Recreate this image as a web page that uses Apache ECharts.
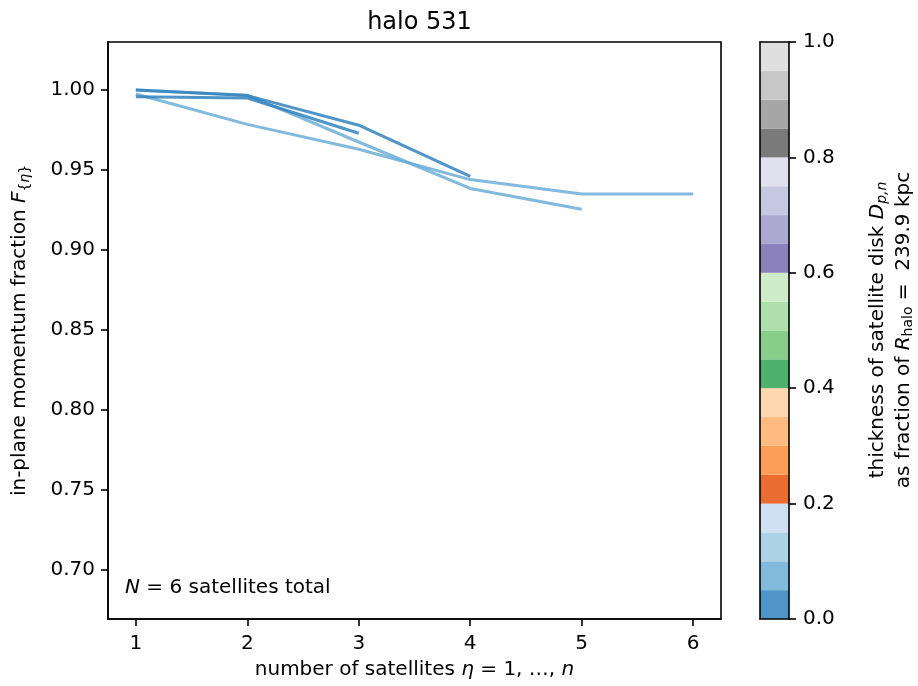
<!DOCTYPE html>
<html><head><meta charset="utf-8">
<script src="https://cdn.jsdelivr.net/npm/echarts@6/dist/echarts.min.js"></script>
<style>html,body{margin:0;padding:0;background:#fff}#c{width:918px;height:686px}</style>
</head><body><div id="c"></div>
<script>
// ---- data ----
const satelliteCounts = [1, 2, 3, 4, 5, 6];
const fractionA = [1.000, 0.9965, 0.978, 0.946];
const fractionB = [0.9958, 0.995, 0.973];
const fractionC = [1.000, 0.9968, 0.9675, 0.9385, 0.9255];
const fractionD = [0.9975, 0.9785, 0.963, 0.944, 0.935, 0.935];
// colour bin (thickness bin index on the colorbar) for each curve
const binA = 0, binB = 0, binC = 1, binD = 1;
const xTicks = [1, 2, 3, 4, 5, 6];
const yTicks = [0.70, 0.75, 0.80, 0.85, 0.90, 0.95, 1.00];
const cbTicks = [0, 0.2, 0.4, 0.6, 0.8, 1.0];
const cbColors = ['#3182bd','#6baed6','#9ecae1','#c6dbef','#e6550d','#fd8d3c','#fdae6b','#fdd0a2',
  '#31a354','#74c476','#a1d99b','#c7e9c0','#756bb1','#9e9ac8','#bcbddc','#dadaeb',
  '#636363','#969696','#bdbdbd','#d9d9d9'];
const cbBinSize = 0.05;

// ---- chart ----
const FONT = 'DejaVu Sans';
const chart = echarts.init(document.getElementById('c'), null, {renderer: 'canvas'});
const curves = [
  {vals: fractionC, bin: binC},
  {vals: fractionD, bin: binD},
  {vals: fractionA, bin: binA},
  {vals: fractionB, bin: binB}
];
const series = [];
curves.forEach(c => {
  series.push({
    type: 'line', xAxisIndex: 0, yAxisIndex: 0, symbol: 'none', silent: true,
    data: c.vals.map((v, i) => [satelliteCounts[i], v]),
    lineStyle: {width: 3, color: cbColors[c.bin], opacity: 0.85, cap: 'butt'},
    itemStyle: {color: cbColors[c.bin]}
  });
});
cbColors.forEach(col => {
  series.push({
    type: 'bar', xAxisIndex: 1, yAxisIndex: 1, stack: 'cb', silent: true,
    data: [cbBinSize], barWidth: '100%',
    itemStyle: {color: col, opacity: 0.85}
  });
});
const blackLine = {show: true, onZero: false, lineStyle: {color: '#000', width: 1.6}};
const tick = {show: true, length: 7, lineStyle: {color: '#000', width: 1.6}};
const lbl = {color: '#000', fontSize: 20, fontFamily: FONT};
const option = {
  animation: false,
  backgroundColor: '#fff',
  title: {text: 'halo 531', left: 414.5, top: 6, textAlign: 'center',
    textStyle: {fontSize: 24, fontWeight: 'normal', fontFamily: FONT, color: '#000'}},
  grid: [
    {left: 108, top: 42, width: 613, height: 577, show: true, borderColor: '#000', borderWidth: 1.6, backgroundColor: 'transparent'},
    {left: 760, top: 42, width: 29, height: 577}
  ],
  xAxis: [
    {gridIndex: 0, type: 'value', min: 0.75, max: 6.25,
     axisLine: blackLine, axisTick: Object.assign({customValues: xTicks}, tick),
     axisLabel: Object.assign({customValues: xTicks, margin: 15}, lbl),
     splitLine: {show: false},
     name: 'number of satellites {i|η} = 1, …, {i|n}', nameLocation: 'middle', nameGap: 41,
     nameTextStyle: {color: '#000', fontSize: 20, fontFamily: FONT,
       rich: {i: {fontStyle: 'italic', fontSize: 20, fontFamily: FONT, color: '#000'}}}},
    {gridIndex: 1, type: 'category', data: ['cb'], position: 'bottom', z: 10,
     axisLine: blackLine, axisTick: {show: false}, axisLabel: {show: false}, splitLine: {show: false}},
    {gridIndex: 1, type: 'category', data: ['cb'], position: 'top', z: 10,
     axisLine: blackLine, axisTick: {show: false}, axisLabel: {show: false}, splitLine: {show: false}}
  ],
  yAxis: [
    {gridIndex: 0, type: 'value', min: 0.6694, max: 1.03,
     axisLine: blackLine, axisTick: Object.assign({customValues: yTicks}, tick),
     axisLabel: Object.assign({customValues: yTicks, margin: 13, formatter: v => v.toFixed(2)}, lbl),
     splitLine: {show: false},
     name: '{m|in-plane momentum fraction }{mi|F}{s|{}{si|η}}', nameLocation: 'middle', nameGap: 68, nameRotate: 90,
     nameTextStyle: {color: '#000', fontSize: 14, fontFamily: FONT,
       rich: {
         m: {fontSize: 20, fontFamily: FONT, color: '#000', padding: [0, 0, 10, 0]},
         mi: {fontSize: 20, fontFamily: FONT, fontStyle: 'italic', color: '#000', padding: [0, 0, 10, 0]},
         s: {fontSize: 14, fontFamily: FONT, color: '#000'},
         si: {fontSize: 14, fontFamily: FONT, fontStyle: 'italic', color: '#000'}
       }}},
    {gridIndex: 1, type: 'value', min: 0, max: 1, interval: 0.2, position: 'right', z: 10,
     axisLine: blackLine, axisTick: tick,
     axisLabel: Object.assign({margin: 14, formatter: v => v.toFixed(1)}, lbl),
     splitLine: {show: false}},
    {gridIndex: 1, type: 'value', min: 0, max: 1, position: 'left', z: 10,
     axisLine: blackLine, axisTick: {show: false}, axisLabel: {show: false}, splitLine: {show: false}}
  ],
  graphic: [
    {type: 'text', x: 125, y: 588, silent: true,
     style: {text: '{i|N} = 6 satellites total', fill: '#000', fontSize: 20, fontFamily: FONT,
       verticalAlign: 'middle', align: 'left',
       rich: {i: {fontStyle: 'italic', fontSize: 20, fontFamily: FONT, fill: '#000'}}}},
    {type: 'text', x: 891, y: 330, rotation: Math.PI / 2, silent: true,
     style: {text: '{t|thickness of satellite disk }{i|D}{s|p,n}\n{t|as fraction of }{i|R}{r|halo}{t| =  239.9 kpc}',
       fill: '#000', fontSize: 20, fontFamily: FONT, align: 'center', verticalAlign: 'middle',
       rich: {
         t: {fontSize: 20, fontFamily: FONT, fill: '#000', lineHeight: 26},
         i: {fontSize: 20, fontFamily: FONT, fontStyle: 'italic', fill: '#000', lineHeight: 26},
         s: {fontSize: 14, fontFamily: FONT, fontStyle: 'italic', fill: '#000', lineHeight: 18, padding: [8, 0, 0, 0]},
         r: {fontSize: 14, fontFamily: FONT, fill: '#000', lineHeight: 18, padding: [8, 0, 0, 0]}
       }}}
  ],
  series: series
};
chart.setOption(option);
</script>
</body></html>
